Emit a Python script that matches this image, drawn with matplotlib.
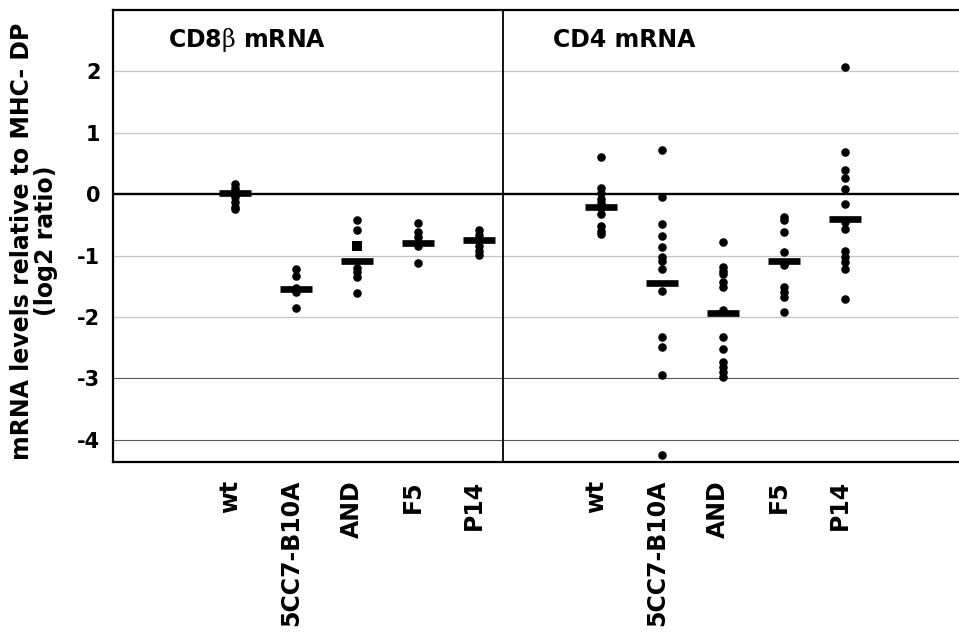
import numpy as np
import matplotlib
matplotlib.use('Agg')
import matplotlib.pyplot as plt
from matplotlib.transforms import ScaledTranslation

plt.rcParams['font.family'] = 'DejaVu Sans'
plt.rcParams['axes.unicode_minus'] = False
plt.rcParams['mathtext.fontset'] = 'custom'
plt.rcParams['mathtext.rm'] = 'DejaVu Serif'

strains = ['wt', '5CC7-B10A', 'AND', 'F5', 'P14']

# CD8beta mRNA, log2 ratio to MHC- DP
cd8_wt = [0.17, 0.1, 0.05, 0.0, -0.05, -0.12, -0.2, -0.24]
cd8_5cc7 = [-1.21, -1.33, -1.52, -1.59, -1.85]
cd8_and = [-0.42, -0.58, -1.2, -1.27, -1.35, -1.61]
cd8_and_sq = [-0.85]
cd8_f5 = [-0.47, -0.61, -0.69, -0.85, -1.12]
cd8_p14 = [-0.58, -0.66, -0.85, -0.93, -0.99]
cd8_means = [0.02, -1.55, -1.08, -0.8, -0.74]

# CD4 mRNA
cd4_wt = [0.61, 0.1, 0.02, -0.08, -0.15, -0.22, -0.32, -0.52, -0.6, -0.65]
cd4_5cc7 = [0.72, -0.04, -0.48, -0.68, -0.86, -1.02, -1.08, -1.21, -1.57,
            -2.33, -2.48, -2.95, -4.24]
cd4_and = [-0.78, -1.19, -1.25, -1.3, -1.43, -1.51, -1.89, -2.32, -2.52,
           -2.73, -2.82, -2.9, -2.97]
cd4_f5 = [-0.37, -0.42, -0.61, -0.94, -1.16, -1.51, -1.59, -1.68, -1.92]
cd4_p14 = [2.07, 0.69, 0.39, 0.27, 0.09, -0.16, -0.45, -0.56, -0.92, -1.02,
           -1.1, -1.21, -1.7]
cd4_means = [-0.2, -1.45, -1.93, -1.09, -0.41]

cd8_all = [cd8_wt, cd8_5cc7, cd8_and, cd8_f5, cd8_p14]
cd4_all = [cd4_wt, cd4_5cc7, cd4_and, cd4_f5, cd4_p14]

fig = plt.figure(figsize=(9.59, 6.32), dpi=100)
ax = fig.add_axes([113/959, 1 - 462/632, 1 - 113/959, 452/632])

pos_l = np.arange(5) + 2
pos_r = np.arange(5) + 8

# grid lines (excel style)
for g in [2, 1, -1, -2]:
    ax.axhline(g, color='#c4c4c4', lw=0.9, zorder=0)
for g in [-3, -4]:
    ax.axhline(g, color='#5a5a5a', lw=0.8, zorder=0)
ax.axhline(0, color='black', lw=1.7, zorder=1)
ax.axvline(6.39, color='black', lw=1.3, zorder=1)

for p, vals in zip(pos_l, cd8_all):
    ax.scatter([p]*len(vals), vals, s=38, c='black', linewidths=0, zorder=3)
ax.scatter([pos_l[2]], cd8_and_sq, s=42, marker='s', c='black', linewidths=0, zorder=3)
for p, vals in zip(pos_r, cd4_all):
    ax.scatter([p]*len(vals), vals, s=38, c='black', linewidths=0, zorder=3)

ax.hlines(cd8_means, pos_l - 0.27, pos_l + 0.27, colors='black', lw=4.8, zorder=4)
ax.hlines(cd4_means, pos_r - 0.27, pos_r + 0.27, colors='black', lw=4.8, zorder=4)

ax.set_xlim(0, 846/61)
ax.set_ylim(-4.36, 3.0)

ax.set_yticks([-4, -3, -2, -1, 0, 1, 2])
ax.set_yticklabels(['-4', '-3', '-2', '-1', '0', '1', '2'], fontsize=15, fontweight='bold')
ax.set_xticks(np.concatenate([pos_l, pos_r]))
ax.set_xticklabels(strains + strains, rotation=90, fontsize=17, fontweight='bold',
                   va='top', ha='center')
ax.tick_params(axis='y', length=0, pad=9)
ax.tick_params(axis='x', length=0, pad=13)
shift = ScaledTranslation(-5/100, 0, fig.dpi_scale_trans)
for lab in ax.get_xticklabels():
    lab.set_transform(lab.get_transform() + shift)

for s in ['left', 'top', 'bottom']:
    ax.spines[s].set_linewidth(1.6)
ax.spines['right'].set_visible(False)

ax.text(0.9, 2.39, 'CD8$\\mathrm{\\beta}$ mRNA', fontsize=17, fontweight='bold', va='baseline')
ax.text(7.21, 2.39, 'CD4 mRNA', fontsize=17, fontweight='bold', va='baseline')

fig.text(34.5/959, 1 - 241/632, 'mRNA levels relative to MHC- DP\n(log2 ratio)',
         rotation=90, ha='center', va='center', fontsize=17, fontweight='bold',
         linespacing=1.0, multialignment='center')

fig.savefig('out.png', dpi=100)
